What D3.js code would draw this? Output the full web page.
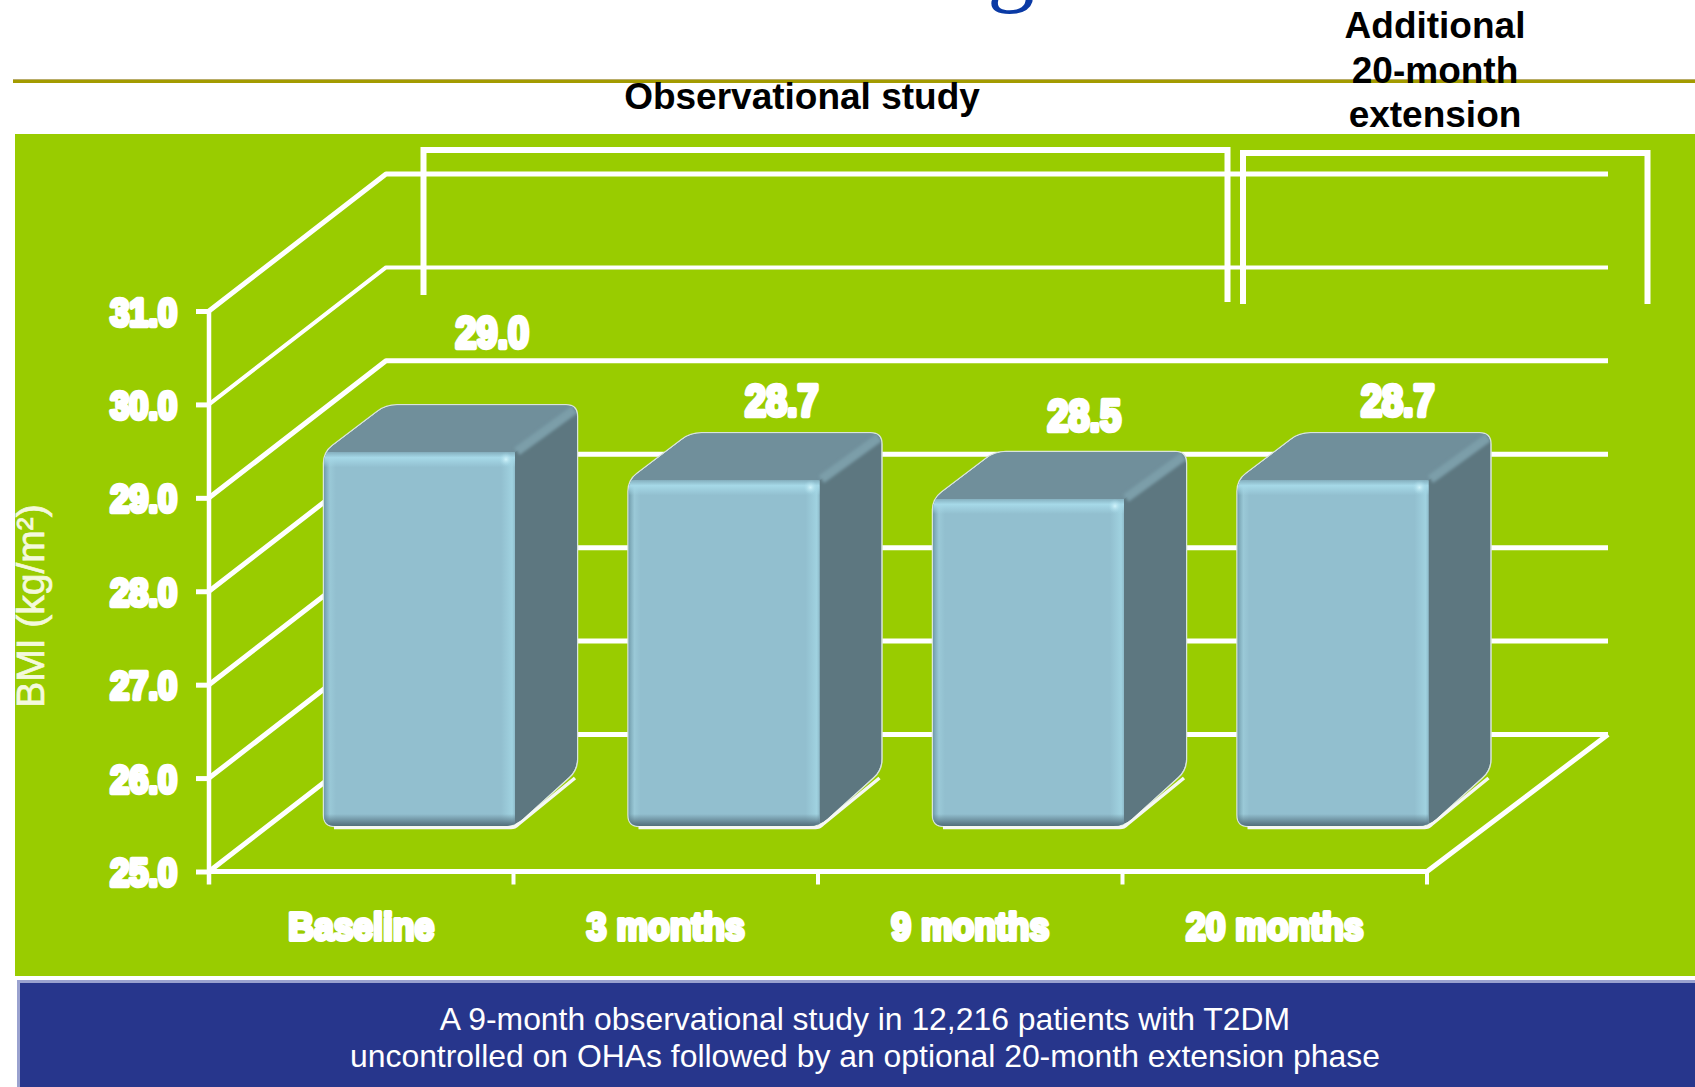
<!DOCTYPE html>
<html>
<head>
<meta charset="utf-8">
<title>BMI over time</title>
<script src="https://cdn.jsdelivr.net/npm/d3@7/dist/d3.min.js"></script>
<style>
  html, body { margin: 0; padding: 0; background: #fff; overflow: hidden; }
  svg { display: block; }
  text { font-family: "Liberation Sans", Arial, sans-serif; }
</style>
</head>
<body>
<svg id="chart" width="1695" height="1087"></svg>
<script>
// BMI readings at each visit
const categories = ["Baseline", "3 months", "9 months", "20 months"];
const bmiValues = [29.0, 28.7, 28.5, 28.7];
const yTicks = [25, 26, 27, 28, 29, 30, 31];
const yTitle = "BMI (kg/m\u00B2)";
const footerLines = [
  "A 9-month observational study in 12,216 patients with T2DM",
  "uncontrolled on OHAs followed by an optional 20-month extension phase"
];
const extensionLines = ["Additional", "20-month", "extension"];

// Hand-placed offsets of the value labels relative to each category centre
const labelShiftX = [131, 116, 114, 123];
const labelShiftY = [-72, -32, -36, -32];

const svg = d3.select("#chart");
const WHITE = "#ffffff";

// Projection of the pseudo-3D box
const wall = { dx: 177, dy: -137, tail: 4 };
const barInset = { dy: -45.5 };
const depth = { dx: 62, topDy: -47, bottomDy: -56 };
const barOffset = 115, barWidth = 191;

const y = d3.scaleLinear().domain([25, 31]).range([871.5, 311]);
const x = d3.scaleBand().domain(categories).range([209, 1427]);

// Panels and header rule
svg.append("rect").attr("x", 15).attr("y", 134).attr("width", 1680).attr("height", 842).attr("fill", "#99cc00");
svg.append("rect").attr("x", 17).attr("y", 980).attr("width", 1678).attr("height", 107).attr("fill", "#9aa2cf");
svg.append("rect").attr("x", 20).attr("y", 983).attr("width", 1675).attr("height", 104).attr("fill", "#27368c");
svg.append("rect").attr("x", 13).attr("y", 79).attr("width", 1682).attr("height", 4).attr("fill", "#a39b00");
svg.append("rect").attr("x", 13).attr("y", 79).attr("width", 1682).attr("height", 1).attr("fill", "#b9ad6a");

// Descender of the slide title running off the top edge
svg.append("text").attr("x", 1011).attr("y", -6).attr("text-anchor", "middle")
  .attr("font-size", 95).attr("fill", "#0a3aa5")
  .style("font-family", "'Liberation Serif', serif").text("g");

// Gradients used for the bevelled bar fronts
const defs = svg.append("defs");
function ramp(id, x2, y2, stops) {
  const g = defs.append("linearGradient").attr("id", id)
    .attr("x1", 0).attr("y1", 0).attr("x2", x2).attr("y2", y2);
  stops.forEach(([o, c, a]) => g.append("stop").attr("offset", o).attr("stop-color", c).attr("stop-opacity", a));
}
ramp("bevelTop", 0, 1, [[0, "#86b1c0", 1], [0.35, "#a6d9e8", 1], [1, "#a6d9e8", 0]]);
ramp("bevelBottom", 0, 1, [[0, "#5c7a88", 0], [0.75, "#5c7a88", 0.9], [1, "#546f7a", 1]]);
ramp("bevelRight", 1, 0, [[0, "#a0d2e0", 0], [0.8, "#a0d2e0", 1], [1, "#8fbccb", 1]]);
ramp("bevelLeft", 1, 0, [[0, "#6f9aa9", 1], [0.5, "#9ccbd9", 0.8], [1, "#9ccbd9", 0]]);
const spec = defs.append("radialGradient").attr("id", "specular");
spec.append("stop").attr("offset", 0).attr("stop-color", "#d2f4fb");
spec.append("stop").attr("offset", 1).attr("stop-color", "#a6d9e8").attr("stop-opacity", 0);
const blurRidge = defs.append("filter").attr("id", "soft").attr("x", "-20%").attr("y", "-20%").attr("width", "140%").attr("height", "140%");
blurRidge.append("feGaussianBlur").attr("stdDeviation", 1.8);

// Gridlines: floor and back wall
const grid = svg.append("g").attr("stroke", WHITE).attr("fill", "none").attr("stroke-linejoin", "round");
yTicks.forEach(v => {
  const path = d3.path();
  path.moveTo(x.range()[0], y(v));
  path.lineTo(x.range()[0] + wall.dx, y(v) + wall.dy);
  path.lineTo(x.range()[1] + wall.dx + wall.tail, y(v) + wall.dy);
  grid.append("path").attr("d", path.toString()).attr("stroke-width", v === 30 ? 4 : 5);
});
// Floor edges and vertical axis
const x0 = x.range()[0], x1 = x.range()[1];
grid.append("path").attr("stroke-width", 5)
  .attr("d", `M${x0},${y(25)}H${x1}L${x1 + wall.dx + wall.tail},${y(25) + wall.dy}`);
grid.append("line").attr("stroke-width", 4.5)
  .attr("x1", x0).attr("x2", x0).attr("y1", y(31)).attr("y2", y(25) + 13);

// Ticks along the floor edge sit between categories
grid.selectAll("line.cat").data(d3.range(1, categories.length + 1)).join("line").attr("class", "cat")
  .attr("stroke-width", 4)
  .attr("x1", i => x0 + i * x.step()).attr("x2", i => x0 + i * x.step())
  .attr("y1", y(25)).attr("y2", y(25) + 13);

// Squeeze a text run horizontally, as the heavy chart lettering is narrower than the face
function squeeze(sel, factor) {
  sel.each(function () {
    const t = d3.select(this);
    t.attr("textLength", this.getComputedTextLength() * factor).attr("lengthAdjust", "spacingAndGlyphs");
  });
}
function heavy(sel, size, strokeW) {
  sel.attr("font-size", size).attr("font-weight", "bold").attr("fill", WHITE)
    .attr("stroke", WHITE).attr("stroke-width", strokeW).attr("stroke-linejoin", "round");
}

// Value axis
const yAxis = svg.append("g").attr("transform", `translate(${x0},0)`)
  .call(d3.axisLeft(y).tickValues(yTicks).tickFormat(d3.format(".1f")).tickSize(13).tickPadding(19));
yAxis.select(".domain").remove();
yAxis.selectAll(".tick line").attr("stroke", WHITE).attr("stroke-width", 5);
yAxis.selectAll(".tick text").attr("dy", "0.36em").call(heavy, 39, 4.5).call(squeeze, 0.88)
  .style("font-family", "'Liberation Sans', Arial, sans-serif");

// Category axis
const xAxis = svg.append("g").attr("transform", `translate(0,${y(25)})`)
  .call(d3.axisBottom(x).tickSize(0).tickPadding(0));
xAxis.select(".domain").remove();
xAxis.selectAll(".tick line").remove();
xAxis.selectAll(".tick text").attr("y", 68).attr("dy", 0).call(heavy, 39, 4).call(squeeze, 0.91)
  .style("font-family", "'Liberation Sans', Arial, sans-serif");

// Axis title
svg.append("text").attr("transform", "translate(44,606) rotate(-90)").attr("text-anchor", "middle")
  .attr("font-size", 39).attr("fill", "#f4f9dd").attr("stroke", "#f4f9dd").attr("stroke-width", 0.7).text(yTitle);

// Polygon with softened corners
function rounded(points, r) {
  const p = d3.path(), n = points.length;
  points.forEach((c, i) => {
    const a = points[(i + n - 1) % n], b = points[(i + 1) % n];
    const la = Math.hypot(a[0] - c[0], a[1] - c[1]), lb = Math.hypot(b[0] - c[0], b[1] - c[1]);
    const s = [c[0] + (a[0] - c[0]) * r / la, c[1] + (a[1] - c[1]) * r / la];
    const e = [c[0] + (b[0] - c[0]) * r / lb, c[1] + (b[1] - c[1]) * r / lb];
    if (i === 0) p.moveTo(s[0], s[1]); else p.lineTo(s[0], s[1]);
    p.quadraticCurveTo(c[0], c[1], e[0], e[1]);
  });
  p.closePath();
  return p.toString();
}

// Bars
const barGroups = svg.append("g").selectAll("g").data(categories.map((c, i) => ({ c, v: bmiValues[i], i }))).join("g");
barGroups.each(function (d) {
  const g = d3.select(this);
  const L = x(d.c) + barOffset, R = L + barWidth;
  const T = y(d.v) + barInset.dy, B = y(25) + barInset.dy;
  const D = depth;
  const outline = [[L, B], [R, B], [R + D.dx, B + D.bottomDy], [R + D.dx, T + D.topDy], [L + D.dx, T + D.topDy], [L, T]];
  const shape = rounded(outline, 11);
  const clipId = "bar-clip-" + d.i;
  defs.append("clipPath").attr("id", clipId).append("path").attr("d", shape);

  // Light halo, brightest under the bar
  g.append("path").attr("d", shape).attr("fill", "none").attr("stroke", "#d8e4dc").attr("stroke-width", 2.5);
  g.append("path").attr("d", `M${L + 10},${B + 1.5}H${R - 4}Q${R},${B + 1.5} ${R + 3},${B - 1.5}L${R + D.dx - 2},${B + D.bottomDy + 8}`)
    .attr("fill", "none").attr("stroke", "#f6f8f4").attr("stroke-width", 3.5);

  const inner = g.append("g").attr("clip-path", `url(#${clipId})`);
  inner.append("path").attr("d", shape).attr("fill", "#5d7780");
  inner.append("polygon").attr("fill", "#708f9b")
    .attr("points", [[L, T], [R, T], [R + D.dx, T + D.topDy], [L + D.dx, T + D.topDy]].join(" "));
  inner.append("line").attr("x1", R + 2).attr("y1", T - 1).attr("x2", R + D.dx - 2).attr("y2", T + D.topDy + 4)
    .attr("stroke", "#7b9ea9").attr("stroke-width", 9).attr("filter", "url(#soft)");

  // Front face with bevelled edges
  const front = inner.append("g");
  front.append("path").attr("d", rounded([[L, B], [R, B], [R, T], [L, T]], 8)).attr("fill", "#92bfcf");
  front.append("rect").attr("x", L).attr("y", T).attr("width", 12).attr("height", B - T).attr("fill", "url(#bevelLeft)");
  front.append("rect").attr("x", R - 14).attr("y", T).attr("width", 14).attr("height", B - T).attr("fill", "url(#bevelRight)");
  front.append("rect").attr("x", L).attr("y", T).attr("width", barWidth).attr("height", 15).attr("fill", "url(#bevelTop)");
  front.append("rect").attr("x", L).attr("y", B - 12).attr("width", barWidth).attr("height", 12).attr("fill", "url(#bevelBottom)");
  front.append("circle").attr("cx", R - 9).attr("cy", T + 7).attr("r", 7).attr("fill", "url(#specular)");

  // Value label
  g.append("text").attr("x", x(d.c) + x.bandwidth() / 2 + labelShiftX[d.i])
    .attr("y", y(d.v) + barInset.dy + D.topDy + labelShiftY[d.i] + 15)
    .attr("text-anchor", "middle").call(heavy, 44, 4.5).text(d3.format(".1f")(d.v)).call(squeeze, 0.86);
});

// Study phase brackets
const brackets = svg.append("g").attr("fill", "none").attr("stroke", WHITE).attr("stroke-width", 6).attr("stroke-linejoin", "miter");
brackets.append("path").attr("d", "M423.5,295V150H1227.5V302");
brackets.append("path").attr("d", "M1243,304V153H1647.5V304");

// Phase headings
svg.append("text").attr("x", 802).attr("y", 109).attr("text-anchor", "middle")
  .attr("font-size", 37).attr("font-weight", "bold").attr("fill", "#000").text("Observational study");
svg.append("g").selectAll("text").data(extensionLines).join("text")
  .attr("x", 1435).attr("y", (d, i) => 38 + i * 44.5).attr("text-anchor", "middle")
  .attr("font-size", 37).attr("font-weight", "bold").attr("fill", "#000").text(d => d);

// Study description
svg.append("g").selectAll("text").data(footerLines).join("text")
  .attr("x", 865).attr("y", (d, i) => 1030 + i * 37).attr("text-anchor", "middle")
  .attr("font-size", 31.9).attr("fill", "#fff").text(d => d);
</script>
</body>
</html>
